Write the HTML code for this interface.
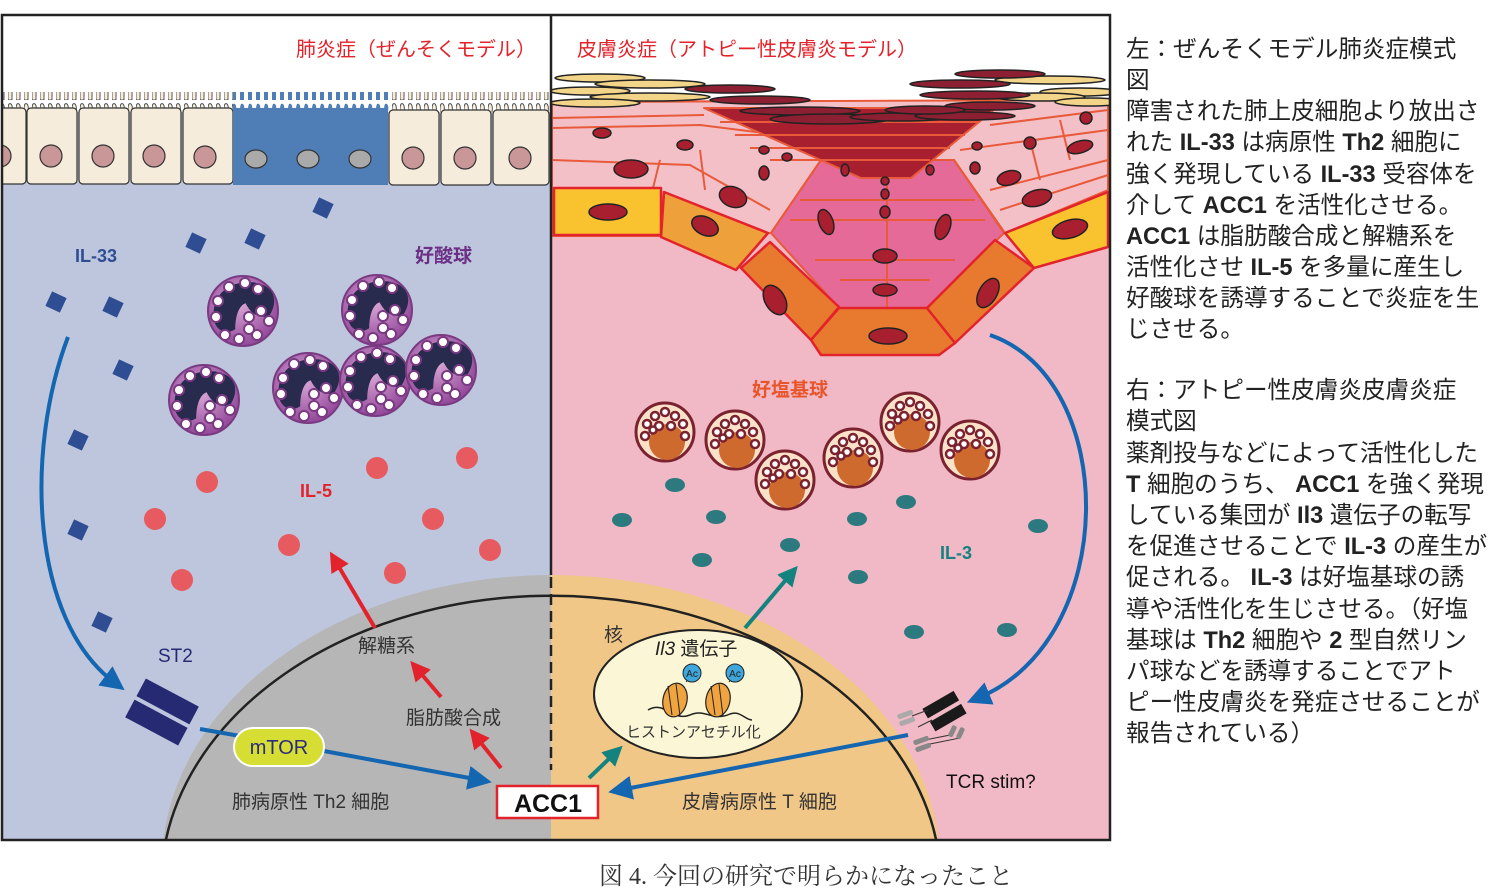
<!DOCTYPE html>
<html><head><meta charset="utf-8"><style>
html,body{margin:0;padding:0;background:#fff;width:1488px;height:894px;overflow:hidden}
svg{display:block}
text{font-family:"Liberation Sans","Noto Sans CJK JP",sans-serif}
</style></head><body>
<svg width="1488" height="894" viewBox="0 0 1488 894" xmlns="http://www.w3.org/2000/svg">
<defs>
<radialGradient id="eg" cx="45%" cy="40%" r="60%"><stop offset="0" stop-color="#d9a8d6"/><stop offset="1" stop-color="#93489a"/></radialGradient>
<g id="eos">
<circle r="35" fill="url(#eg)" stroke="#7a3a82" stroke-width="2"/>
<path transform="scale(1.3)" d="M-22,8 C-26,-12 -10,-24 8,-22 C24,-20 28,-8 20,4 C12,6 6,2 2,-6 C-4,-4 -6,6 -6,14 C-12,18 -20,16 -22,8Z" fill="#282a4e"/>
<g fill="#fff" stroke="#7a3a82" stroke-width="2">
<circle cx="-14" cy="-24" r="5"/><circle cx="2" cy="-28" r="5"/><circle cx="15" cy="-22" r="5"/><circle cx="-25" cy="-10" r="5"/><circle cx="-27" cy="6" r="5"/><circle cx="-18" cy="24" r="5"/><circle cx="-4" cy="28" r="5"/><circle cx="14" cy="24" r="5"/><circle cx="26" cy="10" r="5"/><circle cx="6" cy="6" r="5"/><circle cx="18" cy="0" r="5"/><circle cx="6" cy="18" r="5"/>
</g></g>
<g id="baso">
<circle r="29" fill="#fbe1c8" stroke="#7a2230" stroke-width="3"/>
<circle cx="2" cy="10" r="18" fill="#cf6a2e"/>
<g fill="#fff" stroke="#7a2230" stroke-width="2.5">
<circle cx="-18" cy="-8" r="4"/><circle cx="-10" cy="-16" r="4"/><circle cx="0" cy="-20" r="4"/><circle cx="10" cy="-16" r="4"/><circle cx="18" cy="-8" r="4"/><circle cx="20" cy="4" r="4"/><circle cx="-20" cy="4" r="4"/><circle cx="-6" cy="-6" r="4"/><circle cx="6" cy="-6" r="4"/><circle cx="-12" cy="-2" r="3.5"/>
</g></g>
<pattern id="mv" x="0" y="0" width="8" height="20" patternUnits="userSpaceOnUse">
<path d="M0,20 L0,10 Q0,2 3,4 Q5,6 4,12 L4,20Z" fill="#f6ecdc" stroke="#444" stroke-width="0.9"/>
</pattern>
<pattern id="mvb" x="0" y="0" width="8" height="20" patternUnits="userSpaceOnUse">
<path d="M0,20 L0,10 Q0,2 3,4 Q5,6 4,12 L4,20Z" fill="#4f7db5"/>
</pattern>
<marker id="ab" markerWidth="6" markerHeight="6" refX="3" refY="3" orient="auto" markerUnits="strokeWidth"><path d="M0,0 L6,3 L0,6Z" fill="#1566b0"/></marker>
<marker id="ar" markerWidth="5" markerHeight="5" refX="2" refY="2.5" orient="auto" markerUnits="strokeWidth"><path d="M0,0 L5,2.5 L0,5Z" fill="#e3232b"/></marker>
<marker id="at" markerWidth="5" markerHeight="5" refX="2" refY="2.5" orient="auto" markerUnits="strokeWidth"><path d="M0,0 L5,2.5 L0,5Z" fill="#14837f"/></marker>
<clipPath id="fr"><rect x="3" y="16" width="1106" height="823"/></clipPath>
<clipPath id="lc"><rect x="3" y="16" width="548" height="823"/></clipPath>
<clipPath id="rc"><rect x="551" y="16" width="558" height="823"/></clipPath>
</defs>

<rect x="3" y="16" width="548" height="823" fill="#bdc6dc"/>
<rect x="3" y="16" width="548" height="96" fill="#fff"/>
<rect x="551" y="16" width="558" height="823" fill="#f1b8c5"/>
<rect x="551" y="16" width="558" height="84" fill="#fff"/>

<!-- lung epithelium -->
<g clip-path="url(#lc)" stroke="#333" stroke-width="1.2">
<rect x="0" y="92" width="233" height="20" fill="url(#mv)" stroke="none"/>
<rect x="389" y="92" width="162" height="20" fill="url(#mv)" stroke="none"/>
<rect x="233" y="92" width="156" height="20" fill="url(#mvb)" stroke="none"/>
<g fill="#f6ecdc">
<rect x="-2" y="108" width="28" height="76" rx="4"/><rect x="27" y="108" width="50" height="76" rx="4"/><rect x="79" y="108" width="50" height="76" rx="4"/><rect x="131" y="108" width="50" height="76" rx="4"/><rect x="183" y="108" width="50" height="76" rx="4"/>
<rect x="389" y="110" width="50" height="75" rx="4"/><rect x="441" y="110" width="50" height="75" rx="4"/><rect x="493" y="110" width="56" height="75" rx="4"/>
</g>
<rect x="233" y="108" width="155" height="77" fill="#4f7db5" stroke="none"/>
<g fill="#c99797"><circle cx="0" cy="156" r="11"/><circle cx="51" cy="156" r="11"/><circle cx="103" cy="156" r="11"/><circle cx="154" cy="156" r="11"/><circle cx="205" cy="157" r="11"/><circle cx="413" cy="158" r="11"/><circle cx="465" cy="158" r="11"/><circle cx="520" cy="158" r="11"/></g>
<g fill="#aaa"><ellipse cx="256" cy="159" rx="11" ry="9"/><ellipse cx="308" cy="159" rx="11" ry="9"/><ellipse cx="360" cy="159" rx="11" ry="9"/></g>
</g>

<!-- skin -->
<g clip-path="url(#rc)" stroke-linejoin="round">
<path d="M552,102 L1108,100 L1108,190 L1005,233 L954,160 L821,160 L771,233 L661,236 L552,236Z" fill="#f4c0c8" stroke="#e85a3a" stroke-width="2"/>
<g stroke="#e85a3a" stroke-width="2" fill="none">
<path d="M552,128 L700,125 L820,140"/><path d="M552,160 L690,165 L770,210"/><path d="M552,118 L704,115"/><path d="M990,125 L1108,110"/><path d="M960,150 L1108,130"/><path d="M990,190 L1108,160"/><path d="M1000,210 L1108,175"/>
<path d="M660,160 L650,200"/><path d="M700,150 L705,190"/><path d="M1030,140 L1040,180"/><path d="M1060,120 L1070,160"/>
</g>
<path d="M771,233 L821,160 L954,160 L1004,233 L927,308 L839,308Z" fill="#e56a98" stroke="#e85a3a" stroke-width="2"/>
<g stroke="#e85a3a" stroke-width="2" fill="none"><path d="M800,200 L975,200"/><path d="M790,220 L985,220"/><path d="M815,260 L955,260"/><path d="M840,280 L930,280"/><path d="M887,160 L887,308"/></g>
<path d="M704,108 L996,108 L911,178 L861,178Z" fill="#a8202f" stroke="#e85a3a" stroke-width="2"/>
<g stroke="#e85a3a" stroke-width="2"><path d="M720,122 L980,122"/><path d="M735,135 L965,135"/><path d="M750,148 L950,148"/><path d="M770,160 L930,160"/></g>
<path d="M554,188 L661,188 L661,235 L554,235Z" fill="#f9c22f" stroke="#e3232b" stroke-width="2.5"/>
<path d="M664,192 L768,233 L736,270 L661,237Z" fill="#eea03a" stroke="#e3232b" stroke-width="2.5"/>
<path d="M741,268 L770,242 L839,307 L811,340Z" fill="#e87a30" stroke="#e3232b" stroke-width="2.5"/>
<path d="M811,340 L839,308 L927,308 L955,343 L939,355 L821,355Z" fill="#e87a30" stroke="#e3232b" stroke-width="2.5"/>
<path d="M927,308 L995,240 L1034,268 L955,343Z" fill="#e87a30" stroke="#e3232b" stroke-width="2.5"/>
<path d="M1005,233 L1108,192 L1108,247 L1034,268Z" fill="#f9c22f" stroke="#e3232b" stroke-width="2.5"/>
<g fill="#a8202f" stroke="#222" stroke-width="1.5">
<ellipse cx="608" cy="212" rx="19" ry="8"/><ellipse cx="705" cy="226" rx="14" ry="9" transform="rotate(25 705 226)"/><ellipse cx="775" cy="300" rx="10" ry="16" transform="rotate(-30 775 300)"/><ellipse cx="888" cy="336" rx="19" ry="8"/><ellipse cx="988" cy="293" rx="9" ry="16" transform="rotate(30 988 293)"/><ellipse cx="1070" cy="229" rx="18" ry="9" transform="rotate(-15 1070 229)"/>
<ellipse cx="631" cy="169" rx="17" ry="9"/><ellipse cx="733" cy="197" rx="14" ry="10" transform="rotate(20 733 197)"/><ellipse cx="826" cy="222" rx="7" ry="13" transform="rotate(-20 826 222)"/><ellipse cx="885" cy="290" rx="12" ry="6"/><ellipse cx="885" cy="256" rx="12" ry="7"/><ellipse cx="943" cy="227" rx="7" ry="13" transform="rotate(20 943 227)"/><ellipse cx="1037" cy="198" rx="15" ry="8" transform="rotate(-15 1037 198)"/><ellipse cx="1009" cy="178" rx="12" ry="7" transform="rotate(-15 1009 178)"/><ellipse cx="1080" cy="147" rx="13" ry="6" transform="rotate(-15 1080 147)"/>
<ellipse cx="602" cy="133" rx="9" ry="5"/><ellipse cx="685" cy="145" rx="8" ry="5"/><ellipse cx="764" cy="173" rx="5" ry="7"/><ellipse cx="845" cy="170" rx="4" ry="6"/><ellipse cx="885" cy="212" rx="5" ry="6"/><ellipse cx="885" cy="194" rx="4" ry="5"/><ellipse cx="885" cy="181" rx="4" ry="4"/><ellipse cx="930" cy="170" rx="4" ry="5"/><ellipse cx="975" cy="168" rx="5" ry="6"/><ellipse cx="1030" cy="143" rx="6" ry="6"/><ellipse cx="1086" cy="118" rx="6" ry="6"/><ellipse cx="977" cy="146" rx="5" ry="4"/><ellipse cx="787" cy="157" rx="5" ry="4"/><ellipse cx="764" cy="150" rx="5" ry="4"/>
</g>
<g stroke="#222" stroke-width="1.5">
<g fill="#f3d58a"><ellipse cx="600" cy="78" rx="45" ry="4"/><ellipse cx="650" cy="84" rx="55" ry="4"/><ellipse cx="590" cy="91" rx="40" ry="4"/><ellipse cx="650" cy="97" rx="60" ry="4"/><ellipse cx="595" cy="103" rx="45" ry="4"/><ellipse cx="1050" cy="80" rx="55" ry="4"/><ellipse cx="1080" cy="92" rx="40" ry="4"/><ellipse cx="1040" cy="97" rx="45" ry="4"/><ellipse cx="1090" cy="102" rx="35" ry="4"/></g>
<g fill="#8c1f32"><ellipse cx="730" cy="89" rx="45" ry="4"/><ellipse cx="760" cy="100" rx="50" ry="4"/><ellipse cx="800" cy="111" rx="60" ry="4"/><ellipse cx="830" cy="119" rx="60" ry="5"/><ellipse cx="900" cy="117" rx="50" ry="4"/><ellipse cx="960" cy="84" rx="50" ry="4"/><ellipse cx="975" cy="95" rx="55" ry="4"/><ellipse cx="990" cy="106" rx="45" ry="4"/><ellipse cx="965" cy="116" rx="50" ry="4"/><ellipse cx="925" cy="110" rx="40" ry="4"/><ellipse cx="1000" cy="74" rx="45" ry="4"/></g>
</g>
</g>

<!-- T cell -->
<g clip-path="url(#fr)">
<path d="M551,575 A390,290 0 0 0 162,865 L551,865Z" fill="#b6b6b6"/>
<path d="M551,575 A390,290 0 0 1 940,865 L551,865Z" fill="#f1c787"/>
<path d="M162,865 A390,290 0 0 1 940,865" fill="none" stroke="#222" stroke-width="2.5"/>
</g>
<line x1="551" y1="16" x2="551" y2="575" stroke="#222" stroke-width="2.5"/>
<line x1="551" y1="577" x2="551" y2="770" stroke="#222" stroke-width="2.5" stroke-dasharray="11,6"/>

<g fill="#2f4d93">
<rect x="-8" y="-8" width="16" height="16" transform="translate(323,208) rotate(25)"/><rect x="-8" y="-8" width="16" height="16" transform="translate(196,243) rotate(25)"/><rect x="-8" y="-8" width="16" height="16" transform="translate(255,239) rotate(25)"/><rect x="-8" y="-8" width="16" height="16" transform="translate(56,302) rotate(25)"/><rect x="-8" y="-8" width="16" height="16" transform="translate(113,307) rotate(25)"/><rect x="-8" y="-8" width="16" height="16" transform="translate(123,370) rotate(25)"/><rect x="-8" y="-8" width="16" height="16" transform="translate(78,440) rotate(25)"/><rect x="-8" y="-8" width="16" height="16" transform="translate(78,530) rotate(25)"/><rect x="-8" y="-8" width="16" height="16" transform="translate(102,622) rotate(25)"/>
</g>
<use href="#eos" x="243" y="311"/><use href="#eos" x="377" y="310"/><use href="#eos" x="204" y="400"/><use href="#eos" x="308" y="388"/><use href="#eos" x="375" y="381"/><use href="#eos" x="441" y="370"/>
<g fill="#e75a5f"><circle cx="207" cy="482" r="11"/><circle cx="377" cy="468" r="11"/><circle cx="467" cy="458" r="11"/><circle cx="155" cy="519" r="11"/><circle cx="433" cy="519" r="11"/><circle cx="289" cy="545" r="11"/><circle cx="490" cy="550" r="11"/><circle cx="182" cy="580" r="11"/><circle cx="395" cy="573" r="11"/></g>

<use href="#baso" x="665" y="432"/><use href="#baso" x="735" y="440"/><use href="#baso" x="785" y="480"/><use href="#baso" x="853" y="458"/><use href="#baso" x="910" y="422"/><use href="#baso" x="970" y="450"/>
<g fill="#2c7a80"><ellipse cx="675" cy="485" rx="10" ry="7"/><ellipse cx="622" cy="520" rx="10" ry="7"/><ellipse cx="716" cy="517" rx="10" ry="7"/><ellipse cx="790" cy="545" rx="10" ry="7"/><ellipse cx="857" cy="519" rx="10" ry="7"/><ellipse cx="906" cy="502" rx="10" ry="7"/><ellipse cx="702" cy="560" rx="10" ry="7"/><ellipse cx="858" cy="577" rx="10" ry="7"/><ellipse cx="1038" cy="526" rx="10" ry="7"/><ellipse cx="914" cy="632" rx="10" ry="7"/><ellipse cx="1007" cy="630" rx="10" ry="7"/></g>

<path d="M68,337 C25,450 30,620 115,683" fill="none" stroke="#1566b0" stroke-width="4" marker-end="url(#ab)"/>
<path d="M990,335 C1120,380 1120,640 978,698" fill="none" stroke="#1566b0" stroke-width="4" marker-end="url(#ab)"/>

<g transform="translate(162,712) rotate(28)"><rect x="-30" y="-22" width="60" height="20" fill="#262a72"/><rect x="-30" y="2" width="60" height="20" fill="#262a72"/></g>
<g transform="translate(945,712) rotate(-30)"><rect x="-18" y="-14" width="36" height="11" fill="#1a1a1a"/><rect x="-18" y="1" width="36" height="11" fill="#1a1a1a"/></g>
<g fill="none" stroke="#333" stroke-width="1"><path d="M912,716 L928,710"/><path d="M918,727 L932,720"/><path d="M925,740 L950,735 L955,730"/><path d="M925,745 L960,738 L962,732"/></g>
<g fill="#aaa"><rect x="897" y="712" width="16" height="5" rx="2" transform="rotate(-20 905 714)"/><rect x="899" y="719" width="16" height="5" rx="2" transform="rotate(-20 907 721)"/><rect x="913" y="738" width="16" height="5" rx="2" fill="#888" transform="rotate(-20 921 740)"/><rect x="915" y="745" width="16" height="5" rx="2" fill="#888" transform="rotate(-20 923 747)"/><rect x="950" y="725" width="5" height="12" rx="2" fill="#888" transform="rotate(25 952 731)"/><rect x="958" y="727" width="5" height="12" rx="2" fill="#888" transform="rotate(25 960 733)"/></g>

<ellipse cx="698" cy="694" rx="104" ry="64" fill="#fbf6d5" stroke="#222" stroke-width="2"/>
<path d="M648,710 C665,700 672,722 690,715 C705,708 712,722 730,714 C740,710 745,720 752,720" fill="none" stroke="#222" stroke-width="1.5"/>
<g fill="#f0a440" stroke="#222" stroke-width="1.2"><ellipse cx="675" cy="700" rx="12" ry="17" transform="rotate(12 675 700)"/><ellipse cx="718" cy="700" rx="12" ry="17" transform="rotate(12 718 700)"/></g>
<g stroke="#222" stroke-width="1" fill="none"><path d="M668,686 L672,715"/><path d="M676,684 L680,716"/><path d="M711,686 L715,715"/><path d="M719,684 L723,716"/><path d="M686,682 L690,677"/><path d="M729,682 L733,677"/></g>
<g fill="#3fa7dc" stroke="#222" stroke-width="1"><circle cx="692" cy="673" r="9"/><circle cx="735" cy="673" r="9"/></g>
<text x="692" y="677" font-size="10" text-anchor="middle" fill="#222">Ac</text><text x="735" y="677" font-size="10" text-anchor="middle" fill="#222">Ac</text>

<line x1="200" y1="729" x2="240" y2="736" stroke="#1566b0" stroke-width="4"/>
<line x1="324" y1="751" x2="480" y2="780" stroke="#1566b0" stroke-width="4" marker-end="url(#ab)"/>
<line x1="908" y1="735" x2="620" y2="790" stroke="#1566b0" stroke-width="4" marker-end="url(#ab)"/>
<rect x="234" y="728" width="90" height="38" rx="19" fill="#d6de34" stroke="#fff" stroke-width="2"/>
<text x="279" y="754" font-size="20" text-anchor="middle" fill="#2a2a80">mTOR</text>
<line x1="501" y1="768" x2="477" y2="738" stroke="#e3232b" stroke-width="4" marker-end="url(#ar)"/>
<line x1="441" y1="697" x2="418" y2="670" stroke="#e3232b" stroke-width="4" marker-end="url(#ar)"/>
<line x1="375" y1="628" x2="336" y2="562" stroke="#e3232b" stroke-width="4" marker-end="url(#ar)"/>
<line x1="589" y1="778" x2="614" y2="754" stroke="#14837f" stroke-width="4" marker-end="url(#at)"/>
<line x1="745" y1="628" x2="790" y2="575" stroke="#14837f" stroke-width="4" marker-end="url(#at)"/>
<rect x="497" y="786" width="101" height="32" fill="#fff" stroke="#e3232b" stroke-width="2.5"/>
<text x="548" y="812" font-size="25" font-weight="bold" text-anchor="middle" fill="#111">ACC1</text>

<g font-size="19">
<text x="296" y="56" fill="#e3232b" font-size="20">肺炎症（ぜんそくモデル）</text>
<text x="577" y="56" fill="#e3232b" font-size="20">皮膚炎症（アトピー性皮膚炎モデル）</text>
<text x="75" y="262" fill="#2f4d93" font-weight="bold" font-size="18">IL-33</text>
<text x="415" y="262" fill="#6b2f86" font-weight="bold">好酸球</text>
<text x="300" y="497" fill="#e3232b" font-weight="bold" font-size="18">IL-5</text>
<text x="752" y="396" fill="#e8552a" font-weight="bold">好塩基球</text>
<text x="940" y="559" fill="#14837f" font-weight="bold" font-size="18">IL-3</text>
<text x="158" y="662" fill="#262a72">ST2</text>
<text x="358" y="652" fill="#333">解糖系</text>
<text x="406" y="724" fill="#333">脂肪酸合成</text>
<text x="232" y="808" fill="#333">肺病原性 Th2 細胞</text>
<text x="682" y="808" fill="#333">皮膚病原性 T 細胞</text>
<text x="946" y="788" fill="#111">TCR stim?</text>
<text x="604" y="641" fill="#333">核</text>
<text x="655" y="655" fill="#222"><tspan font-style="italic">Il3</tspan> 遺伝子</text>
<text x="626" y="737" fill="#333" font-size="15">ヒストンアセチル化</text>
</g>

<rect x="2" y="15" width="1108" height="825" fill="none" stroke="#222" stroke-width="2.5"/>

<g font-size="23.6" fill="#222">
<text x="1126" y="57">左：ぜんそくモデル肺炎症模式</text>
<text x="1126" y="88">図</text>
<text x="1126" y="119">障害された肺上皮細胞より放出さ</text>
<text x="1126" y="150">れた <tspan font-weight="bold">IL-33</tspan> は病原性 <tspan font-weight="bold">Th2</tspan> 細胞に</text>
<text x="1126" y="182">強く発現している <tspan font-weight="bold">IL-33</tspan> 受容体を</text>
<text x="1126" y="213">介して <tspan font-weight="bold">ACC1</tspan> を活性化させる。</text>
<text x="1126" y="244"><tspan font-weight="bold">ACC1</tspan> は脂肪酸合成と解糖系を</text>
<text x="1126" y="275">活性化させ <tspan font-weight="bold">IL-5</tspan> を多量に産生し</text>
<text x="1126" y="306">好酸球を誘導することで炎症を生</text>
<text x="1126" y="337">じさせる。</text>
<text x="1126" y="398">右：アトピー性皮膚炎皮膚炎症</text>
<text x="1126" y="429">模式図</text>
<text x="1126" y="461">薬剤投与などによって活性化した</text>
<text x="1126" y="492"><tspan font-weight="bold">T</tspan> 細胞のうち、 <tspan font-weight="bold">ACC1</tspan> を強く発現</text>
<text x="1126" y="523">している集団が <tspan font-weight="bold">Il3</tspan> 遺伝子の転写</text>
<text x="1126" y="554">を促進させることで <tspan font-weight="bold">IL-3</tspan> の産生が</text>
<text x="1126" y="585">促される。 <tspan font-weight="bold">IL-3</tspan> は好塩基球の誘</text>
<text x="1126" y="617">導や活性化を生じさせる。（好塩</text>
<text x="1126" y="648">基球は <tspan font-weight="bold">Th2</tspan> 細胞や <tspan font-weight="bold">2</tspan> 型自然リン</text>
<text x="1126" y="679">パ球などを誘導することでアト</text>
<text x="1126" y="710">ピー性皮膚炎を発症させることが</text>
<text x="1126" y="741">報告されている）</text>
</g>
<text x="806" y="884" font-size="24" text-anchor="middle" fill="#333" style="font-family:'Liberation Serif','Noto Serif CJK SC',serif">図 4.  今回の研究で明らかになったこと</text>
</svg>
</body></html>
